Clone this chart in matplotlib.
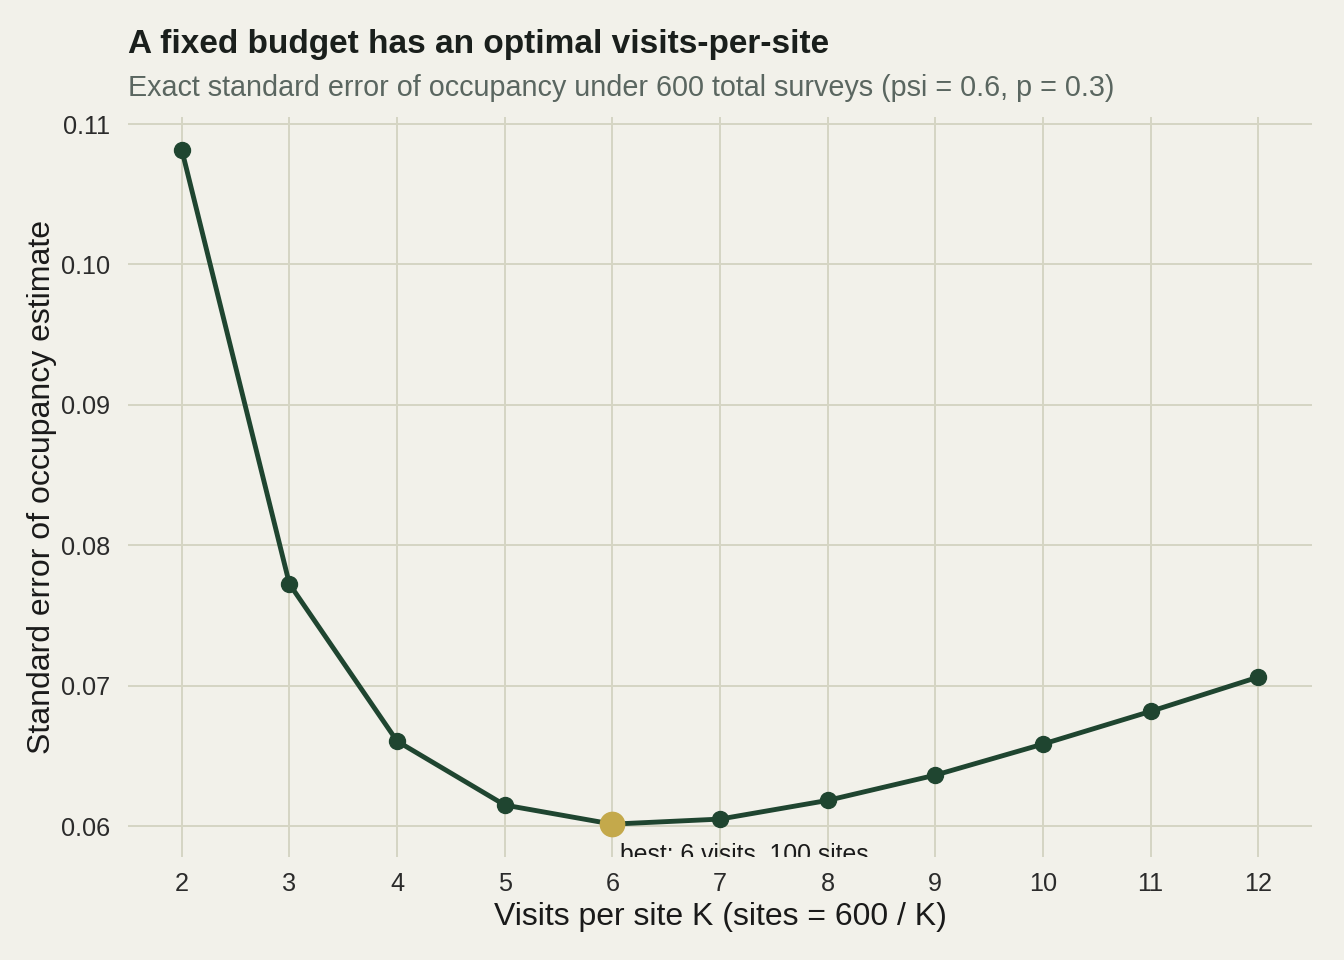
import numpy as np
import matplotlib.pyplot as plt

plt.rcParams['font.family'] = ['Liberation Sans', 'DejaVu Sans']

# visits per site and standard error of occupancy
visits = [2, 3, 4, 5, 6, 7, 8, 9, 10, 11, 12]
se = [0.10815, 0.07724, 0.06605, 0.06150, 0.06014, 0.06050,
      0.06183, 0.06363, 0.06584, 0.06817, 0.07061]
best_k = 6
best_se = 0.06014
best_label = "best: 6 visits, 100 sites"

bg = "#F2F1EA"
grid_col = "#D5D5C3"
line_col = "#1F4530"
gold = "#C4A94B"

fig = plt.figure(figsize=(13.44, 9.6), dpi=100, facecolor=bg)
ax = fig.add_axes([128/1344, 1 - 857/960, (1312 - 128)/1344, (857 - 117)/960])
ax.set_facecolor(bg)

ax.plot(visits, se, color=line_col, lw=3.5, marker='o', ms=11.5, zorder=3)
ax.plot([best_k], [best_se], 'o', color=gold, ms=17.5, zorder=4)
# label sits just under the point and is cut by the panel edge
ax.text(best_k + 0.07, best_se - 0.00263, best_label, ha='left', va='baseline',
        fontsize=17.8, color="#1a1a1a", clip_on=True, zorder=5)

ax.set_xlim(1.5, 12.5)
ax.set_ylim(0.0578, 0.1105)
ax.set_xticks(visits)
ax.set_yticks([0.06, 0.07, 0.08, 0.09, 0.10, 0.11])
ax.set_yticklabels(["0.06", "0.07", "0.08", "0.09", "0.10", "0.11"])
ax.grid(True, color=grid_col, lw=1.4)
ax.set_axisbelow(True)
for s in ax.spines.values():
    s.set_visible(False)
ax.tick_params(length=0, labelsize=18.2, labelcolor="#2b2b2b")
ax.tick_params(axis='y', pad=13)
ax.tick_params(axis='x', pad=11)

ax.set_xlabel("Visits per site K (sites = 600 / K)", fontsize=23, color="#1a1a1a", labelpad=4)
ax.set_ylabel("Standard error of occupancy estimate", fontsize=23, color="#1a1a1a", labelpad=3)

fig.text(128/1344, 1 - 44/960, "A fixed budget has an optimal visits-per-site",
         fontsize=24, fontweight='bold', color="#1a1f1c", va='center', ha='left')
fig.text(128/1344, 1 - 88/960,
         "Exact standard error of occupancy under 600 total surveys (psi = 0.6, p = 0.3)",
         fontsize=20.7, color="#5a6660", va='center', ha='left')

fig.savefig("out.png", dpi=100, facecolor=bg)
